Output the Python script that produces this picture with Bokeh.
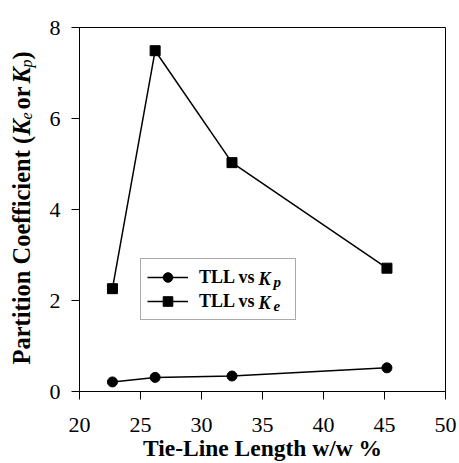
import math
from bokeh.plotting import figure
from bokeh.layouts import row
from bokeh.models import Range1d, Legend, LegendItem, Label, FixedTicker
from bokeh.embed import file_html
from bokeh.resources import INLINE

# Data
tll = [22.7, 26.2, 32.5, 45.2]
kp = [0.21, 0.31, 0.34, 0.52]
ke = [2.26, 7.49, 5.03, 2.71]
x_ticks = [20, 25, 30, 35, 40, 45, 50]
y_ticks = [0, 2, 4, 6, 8]

FONT = "Liberation Serif"
W, H = 459, 463
LW = 45  # width of the strip holding the y-axis title

# ---------- main chart ----------
p = figure(width=W - LW, height=H, output_backend="svg", toolbar_location=None,
           x_range=Range1d(20, 50), y_range=Range1d(0, 8),
           min_border_left=34, min_border_right=14, min_border_top=27, min_border_bottom=71)
p.grid.visible = False
p.outline_line_color = "black"
p.outline_line_width = 1
p.background_fill_color = "white"
p.border_fill_color = "white"

for ax in (p.xaxis[0], p.yaxis[0]):
    ax.major_tick_out = 8
    ax.major_tick_in = 0
    ax.minor_tick_line_color = None
    ax.axis_line_color = "black"
    ax.major_tick_line_color = "black"
    ax.major_label_text_font = FONT
    ax.major_label_text_font_size = "22px"
    ax.major_label_text_color = "black"

p.xaxis.ticker = FixedTicker(ticks=x_ticks)
p.yaxis.ticker = FixedTicker(ticks=y_ticks)
p.xaxis.major_label_standoff = 18
p.yaxis.major_label_standoff = 11
p.xaxis.axis_label = "Tie-Line Length w/w %"
p.xaxis.axis_label_text_font = FONT
p.xaxis.axis_label_text_font_style = "bold"
p.xaxis.axis_label_text_font_size = "23.5px"
p.xaxis.axis_label_text_color = "black"
p.xaxis.axis_label_standoff = 0

r_kp_l = p.line(tll, kp, line_color="black", line_width=1.5)
r_kp_m = p.scatter(tll, kp, marker="circle", size=10, fill_color="black", line_color="black")
r_ke_l = p.line(tll, ke, line_color="black", line_width=1.5)
r_ke_m = p.scatter(tll, ke, marker="square", size=10, fill_color="black", line_color="black")

legend = Legend(items=[LegendItem(label="TLL vs", renderers=[r_kp_l, r_kp_m]),
                       LegendItem(label="TLL vs", renderers=[r_ke_l, r_ke_m])],
                location=(61, 71), padding=6, spacing=0, margin=0,
                label_height=24, glyph_height=24, glyph_width=41, label_standoff=11,
                label_width=90,
                label_text_font=FONT, label_text_font_style="bold",
                label_text_font_size="18px", label_text_color="black",
                border_line_color="#555555", border_line_width=1,
                background_fill_alpha=0)
p.add_layout(legend, "center")

def slab(fig, text, sx, sy, size, style, angle=0.0):
    # sx, sy: pixels from the frame's bottom-left corner
    fig.add_layout(Label(x=sx, y=sy, x_units="screen", y_units="screen", text=text,
                         angle=angle, level="overlay", text_font=FONT,
                         text_font_size=size, text_font_style=style, text_color="black",
                         text_align="left", text_baseline="alphabetic"))

slab(p, "K", 179, 113, "18px", "bold italic")
slab(p, "p", 194, 110, "15px", "bold italic")
slab(p, "K", 179, 89, "18px", "bold italic")
slab(p, "e", 194, 86, "15px", "bold italic")

# ---------- strip with the rotated y-axis title ----------
q = figure(width=LW, height=H, output_backend="svg", toolbar_location=None,
           x_range=Range1d(0, LW), y_range=Range1d(0, 8),
           x_axis_location=None, y_axis_location=None,
           min_border_left=0, min_border_right=0, min_border_top=0, min_border_bottom=0)
q.grid.visible = False
q.outline_line_color = None
q.background_fill_color = "white"
q.border_fill_color = "white"

a = math.pi / 2
BX, SX = 21, 26
slab(q, "Partition Coefficient (", BX, 27, "24.5px", "bold", a)
slab(q, "K", BX, 256, "24.5px", "bold italic", a)
slab(q, "e", SX, 272, "16px", "italic", a)
slab(q, "or", BX, 282, "24.5px", "bold", a)
slab(q, "K", BX, 308, "24.5px", "bold italic", a)
slab(q, "p", SX, 324, "16px", "italic", a)
slab(q, ")", BX, 332, "24.5px", "bold", a)

layout = row(q, p, spacing=0)
open("out.html", "w").write(file_html(layout, INLINE))
